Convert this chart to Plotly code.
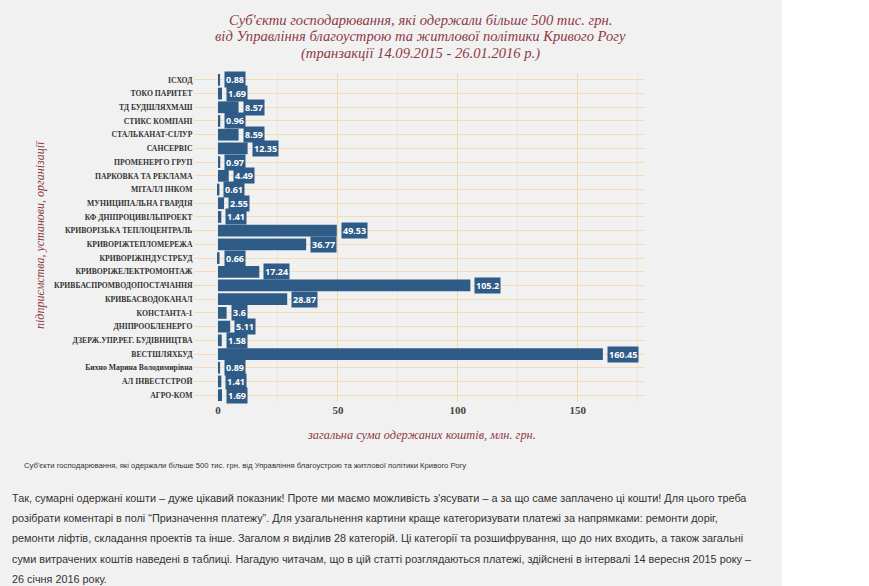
import plotly.graph_objects as go

categories = ["ІСХОД", "ТОКО ПАРИТЕТ", "ТД БУДШЛЯХМАШ", "СТИКС КОМПАНІ", "СТАЛЬКАНАТ-СІЛУР",
              "САНСЕРВІС", "ПРОМЕНЕРГО ГРУП", "ПАРКОВКА ТА РЕКЛАМА", "МІТАЛЛ ІНКОМ",
              "МУНИЦИПАЛЬНА ГВАРДІЯ", "КФ ДНІПРОЦИВІЛЬПРОЕКТ", "КРИВОРІЗЬКА ТЕПЛОЦЕНТРАЛЬ",
              "КРИВОРІЖТЕПЛОМЕРЕЖА", "КРИВОРІЖІНДУСТРБУД", "КРИВОРІЖЕЛЕКТРОМОНТАЖ",
              "КРИВБАСПРОМВОДОПОСТАЧАННЯ", "КРИВБАСВОДОКАНАЛ", "КОНСТАНТА-1", "ДНІПРООБЛЕНЕРГО",
              "ДЗЕРЖ.УПР.РЕГ. БУДІВНИЦТВА", "ВЕСТШЛЯХБУД", "Бихно Марина Володимирівна",
              "АЛ ІНВЕСТСТРОЙ", "АГРО-КОМ"]
values = [0.88, 1.69, 8.57, 0.96, 8.59, 12.35, 0.97, 4.49, 0.61, 2.55, 1.41, 49.53,
          36.77, 0.66, 17.24, 105.2, 28.87, 3.6, 5.11, 1.58, 160.45, 0.89, 1.41, 1.69]
x_ticks = [0, 50, 100, 150]

title_lines = ["Суб'єкти господарювання, які одержали більше 500 тис. грн.",
               "від Управління благоустрою та житлової політики Кривого Рогу",
               "(транзакції 14.09.2015 - 26.01.2016 р.)"]
x_title = "загальна сума одержаних коштів, млн. грн."
y_title = "підприємства, установи, організації"
caption = "Суб'єкти господарювання, які одержали більше 500 тис. грн. від Управління благоустрою та житлової політики Кривого Рогу"
paragraph = [
    "Так, сумарні одержані кошти – дуже цікавий показник! Проте ми маємо можливість з'ясувати – а за що саме заплачено ці кошти! Для цього треба",
    "розібрати коментарі в полі “Призначення платежу”. Для узагальнення картини краще категоризувати платежі за напрямками: ремонти доріг,",
    "ремонти ліфтів, складання проектів та інше. Загалом я виділив 28 категорій. Ці категорії та розшифрування, що до них входить, а також загальні",
    "суми витрачених коштів наведені в таблиці. Нагадую читачам, що в цій статті розглядаються платежі, здійснені в інтервалі 14 вересня 2015 року –",
    "26 січня 2016 року.",
]

W, H = 869, 586
BAR = "#2f5b87"
MAROON = "#8e3a45"
SERIF = "Liberation Serif"
SANS = "Liberation Sans"

fig = go.Figure()
fig.add_trace(go.Bar(x=values, y=categories, orientation="h",
                     marker=dict(color=BAR, line=dict(width=0)),
                     hoverinfo="x+y"))

annotations = []
for c, v in zip(categories, values):
    annotations.append(dict(x=v, y=c, xref="x", yref="y", text=f"<b>{v}</b>",
                            showarrow=False, xanchor="left", xshift=4,
                            font=dict(family="Open Sans", size=9, color="white"),
                            bgcolor=BAR, borderpad=1))

for i, t in enumerate(title_lines):
    annotations.append(dict(x=420 / W, y=1 - (20 + 16.5 * i) / H, xref="paper", yref="paper",
                            text=f"<i>{t}</i>", showarrow=False, xanchor="center", yanchor="middle",
                            font=dict(family=SERIF, size=14.6, color=MAROON)))
annotations.append(dict(x=421 / W, y=1 - 435 / H, xref="paper", yref="paper",
                        text=f"<i>{x_title}</i>", showarrow=False, xanchor="center", yanchor="middle",
                        font=dict(family=SERIF, size=12.3, color=MAROON)))
annotations.append(dict(x=40 / W, y=1 - 235 / H, xref="paper", yref="paper",
                        text=f"<i>{y_title}</i>", showarrow=False, textangle=-90,
                        xanchor="center", yanchor="middle",
                        font=dict(family=SERIF, size=12, color=MAROON)))
annotations.append(dict(x=22 / W, y=1 - 465 / H, xref="paper", yref="paper",
                        text=caption, showarrow=False, xanchor="left", yanchor="middle",
                        font=dict(family=SANS, size=7.7, color="#333333")))
for i, line in enumerate(paragraph):
    annotations.append(dict(x=10 / W, y=1 - (498 + 20.2 * i) / H, xref="paper", yref="paper",
                            text=line, showarrow=False, xanchor="left", yanchor="middle",
                            font=dict(family=SANS, size=10.85, color="#333333")))

fig.update_layout(
    width=W, height=H,
    margin=dict(l=0, r=0, t=0, b=0, autoexpand=False),
    paper_bgcolor="white",
    plot_bgcolor="rgba(0,0,0,0)",
    showlegend=False,
    bargap=0.14,
    shapes=[dict(type="rect", xref="paper", yref="paper", x0=0, x1=782 / W, y0=0, y1=1,
                 fillcolor="#f1f1f1", line=dict(width=0), layer="below")],
    annotations=annotations,
    xaxis=dict(domain=[217 / W, 645 / W], range=[-0.4, 178], tickvals=x_ticks,
               automargin=False,
               showgrid=True, gridcolor="#efd8b0", gridwidth=1, zeroline=False,
               minor=dict(dtick=25, showgrid=True, gridcolor="#f3e6cf"),
               tickfont=dict(family=SERIF, size=11, color="#444444", weight="bold"),
               ticks="", showline=False),
    yaxis=dict(domain=[1 - 402 / H, 1 - 73 / H], range=[23.5, -0.5],
               automargin=False,
               showgrid=True, gridcolor="#f4dcb4", gridwidth=1,
               ticks="outside", ticklen=22, tickcolor="#f4dcb4",
               tickfont=dict(family=SERIF, size=7.7, color="#333333", weight="bold"),
               showline=False, zeroline=False),
)

fig.write_html("out.html", config={"displayModeBar": False},
               post_script="document.body.style.margin='0';document.body.style.overflow='hidden';")
